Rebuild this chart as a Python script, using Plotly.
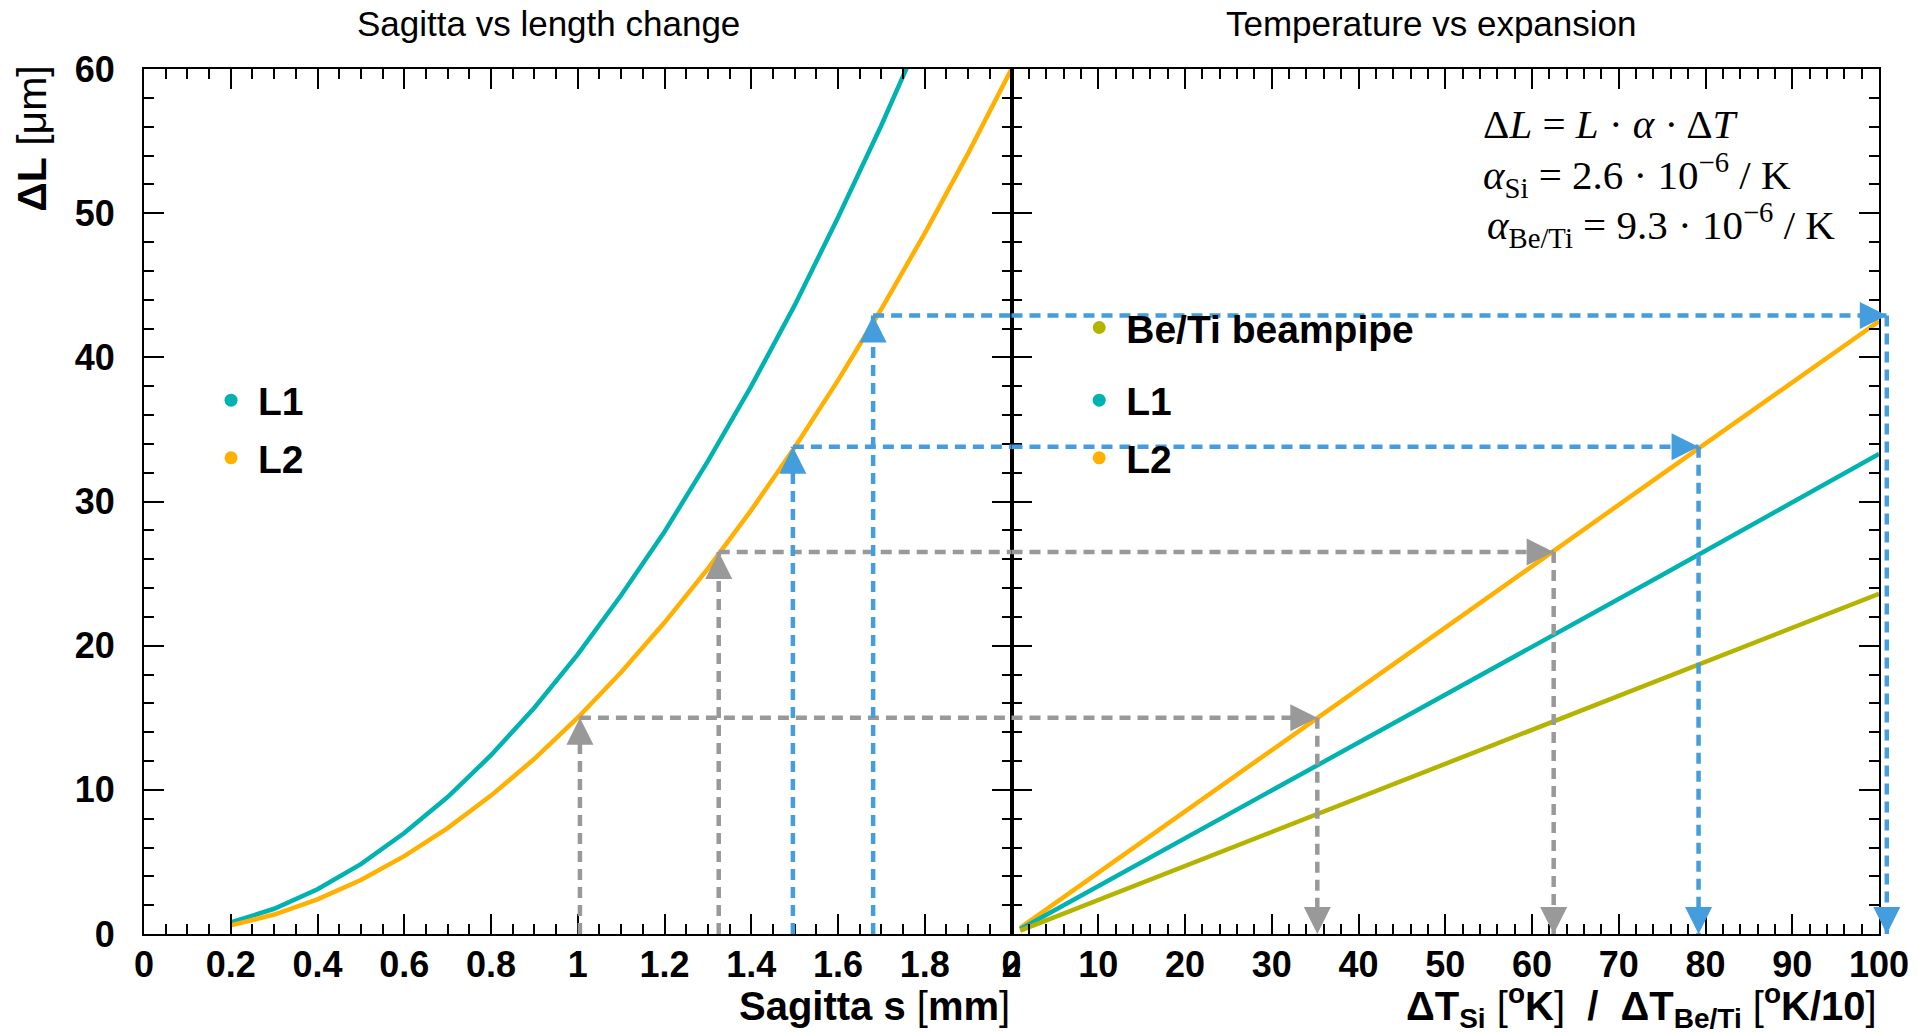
import plotly.graph_objects as go

# ---------------- data ----------------
sagitta_mm = [0.2, 0.3, 0.4, 0.5, 0.6, 0.7, 0.8, 0.9, 1.0, 1.1,
              1.2, 1.3, 1.4, 1.5, 1.6, 1.7, 1.8, 1.9, 2.0]
dl_L1_um = [0.8, 1.75, 3.1, 4.85, 7.0, 9.5, 12.4, 15.7, 19.4, 23.5,
            27.9, 32.8, 38.0, 43.6, 49.7, 56.1, 62.9, 70.0, 77.6]
dl_L2_um = [0.6, 1.35, 2.4, 3.75, 5.4, 7.35, 9.6, 12.15, 15.0, 18.15,
            21.6, 25.35, 29.4, 33.75, 38.4, 43.35, 48.6, 54.15, 60.0]

delta_T = [1, 25, 50, 75, 100]
dl_beti_T_um = [0.24, 5.9, 11.8, 17.7, 23.6]
dl_L1_T_um = [0.33, 8.3, 16.6, 24.9, 33.3]
dl_L2_T_um = [0.43, 10.6, 21.25, 31.9, 42.5]

# guide arrows: sagitta -> delta L -> delta T
guide_s = [1.005, 1.325, 1.496, 1.681]
guide_dl = [15.0, 26.5, 33.8, 42.9]
guide_T = [35.25, 62.5, 79.2, 100.9]
guide_kind = ["gray", "gray", "blue", "blue"]

x_left_ticks = [0, 0.2, 0.4, 0.6, 0.8, 1.0, 1.2, 1.4, 1.6, 1.8, 2.0]
x_left_labels = ["0", "0.2", "0.4", "0.6", "0.8", "1", "1.2", "1.4", "1.6", "1.8", "2"]
x_right_ticks = [0, 10, 20, 30, 40, 50, 60, 70, 80, 90, 100]
y_ticks = [0, 10, 20, 30, 40, 50, 60]

# ---------------- styles ----------------
TEAL = "#00b3b1"
ORANGE = "#ffb000"
OLIVE = "#b3b300"
GUIDE_COLORS = {"gray": "#999999", "blue": "#449ddd"}
SANS = "Liberation Sans"
SERIF = "Liberation Serif"

X_LEFT_RANGE = [0, 2]
X_RIGHT_RANGE = [0, 100]
Y_RANGE = [0, 60]

fig = go.Figure()

LW = 4.5
# left panel curves
fig.add_trace(go.Scatter(x=sagitta_mm, y=dl_L1_um, mode="lines",
                         line=dict(color=TEAL, width=LW), xaxis="x", yaxis="y",
                         showlegend=False, hoverinfo="skip"))
fig.add_trace(go.Scatter(x=sagitta_mm, y=dl_L2_um, mode="lines",
                         line=dict(color=ORANGE, width=LW), xaxis="x", yaxis="y",
                         showlegend=False, hoverinfo="skip"))
# right panel lines
fig.add_trace(go.Scatter(x=delta_T, y=dl_L2_T_um, mode="lines",
                         line=dict(color=ORANGE, width=LW), xaxis="x2", yaxis="y2",
                         showlegend=False, hoverinfo="skip"))
fig.add_trace(go.Scatter(x=delta_T, y=dl_L1_T_um, mode="lines",
                         line=dict(color=TEAL, width=LW), xaxis="x2", yaxis="y2",
                         showlegend=False, hoverinfo="skip"))
fig.add_trace(go.Scatter(x=delta_T, y=dl_beti_T_um, mode="lines",
                         line=dict(color=OLIVE, width=LW), xaxis="x2", yaxis="y2",
                         showlegend=False, hoverinfo="skip"))

# legend-only entries (dots)
def legend_entry(name, color, legend, xa, ya, group):
    fig.add_trace(go.Scatter(x=[None], y=[None], mode="markers", name=name,
                             marker=dict(size=13, color=color), legend=legend,
                             legendgroup=group, xaxis=xa, yaxis=ya))

legend_entry("L1", TEAL, "legend", "x", "y", "a")
legend_entry("L2", ORANGE, "legend", "x", "y", "b")
legend_entry("L1", TEAL, "legend2", "x2", "y2", "c")
legend_entry("L2", ORANGE, "legend2", "x2", "y2", "d")
legend_entry("Be/Ti beampipe", OLIVE, "legend3", "x2", "y2", "e")


def frac_right(t):
    return (t - X_RIGHT_RANGE[0]) / (X_RIGHT_RANGE[1] - X_RIGHT_RANGE[0])


DASH = "11px,7px"
GW = 4.5
shapes = []
annotations = []
for s, dl, t, kind in zip(guide_s, guide_dl, guide_T, guide_kind):
    c = GUIDE_COLORS[kind]
    ln = dict(color=c, width=GW, dash=DASH)
    # vertical up in left panel
    shapes.append(dict(type="line", xref="x", yref="y", x0=s, x1=s, y0=Y_RANGE[0], y1=dl, line=ln))
    # horizontal in left panel
    shapes.append(dict(type="line", xref="x", yref="y", x0=s, x1=X_LEFT_RANGE[1], y0=dl, y1=dl, line=ln))
    # horizontal in right panel
    shapes.append(dict(type="line", xref="x2 domain", yref="y2", x0=0, x1=frac_right(t), y0=dl, y1=dl, line=ln))
    # vertical down in right panel
    shapes.append(dict(type="line", xref="x2 domain", yref="y2", x0=frac_right(t), x1=frac_right(t),
                       y0=dl, y1=Y_RANGE[0], line=ln))
    arrow = dict(text="", showarrow=True, arrowhead=2, arrowsize=2.7, arrowwidth=2, arrowcolor=c)
    annotations.append(dict(arrow, xref="x", yref="y", x=s, y=dl, ax=0, ay=24))
    annotations.append(dict(arrow, xref="x2 domain", yref="y2", x=frac_right(t), y=dl, ax=-24, ay=0))
    annotations.append(dict(arrow, xref="x2 domain", yref="y2", x=frac_right(t), y=Y_RANGE[0], ax=0, ay=-24))

# titles and texts
annotations += [
    dict(text="Sagitta vs length change", xref="paper", yref="paper", x=0.2329, y=1.053,
         xanchor="center", yanchor="middle", showarrow=False,
         font=dict(family=SANS, size=35, color="black")),
    dict(text="Temperature vs expansion", xref="paper", yref="paper", x=0.7418, y=1.053,
         xanchor="center", yanchor="middle", showarrow=False,
         font=dict(family=SANS, size=35, color="black")),
    dict(text="<b>ΔL</b> [μm]", xref="paper", yref="paper", x=-0.0646, y=1.006,
         xanchor="center", yanchor="top", textangle=-90, showarrow=False,
         font=dict(family=SANS, size=41, color="black")),
    dict(text="<b>Sagitta s</b> [<b>mm</b>]", xref="paper", yref="paper", x=0.5, y=-0.083,
         xanchor="right", yanchor="middle", showarrow=False,
         font=dict(family=SANS, size=40, color="black")),
    dict(text="<b>ΔT<sub>Si</sub></b> [<b><sup>o</sup>K</b>]  <b>/</b>  <b>ΔT<sub>Be/Ti</sub></b> [<b><sup>o</sup>K/10</b>]",
         xref="paper", yref="paper", x=1.0, y=-0.083,
         xanchor="right", yanchor="middle", showarrow=False,
         font=dict(family=SANS, size=40, color="black")),
    dict(text="Δ<i>L</i> = <i>L</i> · <i>α</i> · Δ<i>T</i>", xref="paper", yref="paper",
         x=0.7706, y=0.9365, xanchor="left", yanchor="middle", showarrow=False,
         font=dict(family=SERIF, size=41, color="black")),
    dict(text="<i>α</i><sub>Si</sub> = 2.6 · 10<sup>−6</sup> / K", xref="paper", yref="paper",
         x=0.7706, y=0.8776, xanchor="left", yanchor="middle", showarrow=False,
         font=dict(family=SERIF, size=41, color="black")),
    dict(text="<i>α</i><sub>Be/Ti</sub> = 9.3 · 10<sup>−6</sup> / K", xref="paper", yref="paper",
         x=0.7729, y=0.8199, xanchor="left", yanchor="middle", showarrow=False,
         font=dict(family=SERIF, size=41, color="black")),
]

tickfont = dict(family=SANS, size=36, color="black", weight="bold")
common = dict(showline=True, linewidth=2, linecolor="black", mirror="allticks",
              ticks="inside", ticklen=20, tickwidth=2, tickcolor="black",
              showgrid=False, zeroline=False, tickfont=tickfont, fixedrange=True,
              automargin=False)


def minor(dt):
    return dict(ticks="inside", ticklen=10, tickwidth=2, tickcolor="black",
                dtick=dt, tick0=0, showgrid=False)


legend_common = dict(bgcolor="rgba(0,0,0,0)", borderwidth=0,
                     font=dict(family=SANS, size=39, color="black", weight="bold"),
                     xanchor="left", yanchor="top", xref="paper", yref="paper",
                     traceorder="grouped", tracegroupgap=4, itemwidth=44)

# the page adds an 8px body margin, so the figure's own margins are reduced by 8px
fig.update_layout(
    template="none",
    width=1919, height=1033,
    margin=dict(l=136, r=48, t=61, b=107, autoexpand=False),
    paper_bgcolor="white", plot_bgcolor="white",
    showlegend=True,
    xaxis=dict(common, domain=[0, 0.5], range=X_LEFT_RANGE, anchor="y",
               tickvals=x_left_ticks, ticktext=x_left_labels, minor=minor(0.05),
               ticklabelstandoff=-2),
    yaxis=dict(common, domain=[0, 1], range=Y_RANGE, anchor="x",
               tickvals=y_ticks, minor=minor(2), ticklabelstandoff=20),
    xaxis2=dict(common, domain=[0.5, 1], range=X_RIGHT_RANGE, anchor="y2",
                tickvals=x_right_ticks, minor=minor(2), ticklabelstandoff=-2),
    yaxis2=dict(common, domain=[0, 1], range=Y_RANGE, anchor="x2",
                tickvals=y_ticks, minor=minor(2), showticklabels=False),
    legend=dict(legend_common, x=0.0346, y=0.654),
    legend2=dict(legend_common, x=0.535, y=0.654),
    legend3=dict(legend_common, x=0.535, y=0.738),
    shapes=shapes,
    annotations=annotations,
)

fig.write_html("out.html")
